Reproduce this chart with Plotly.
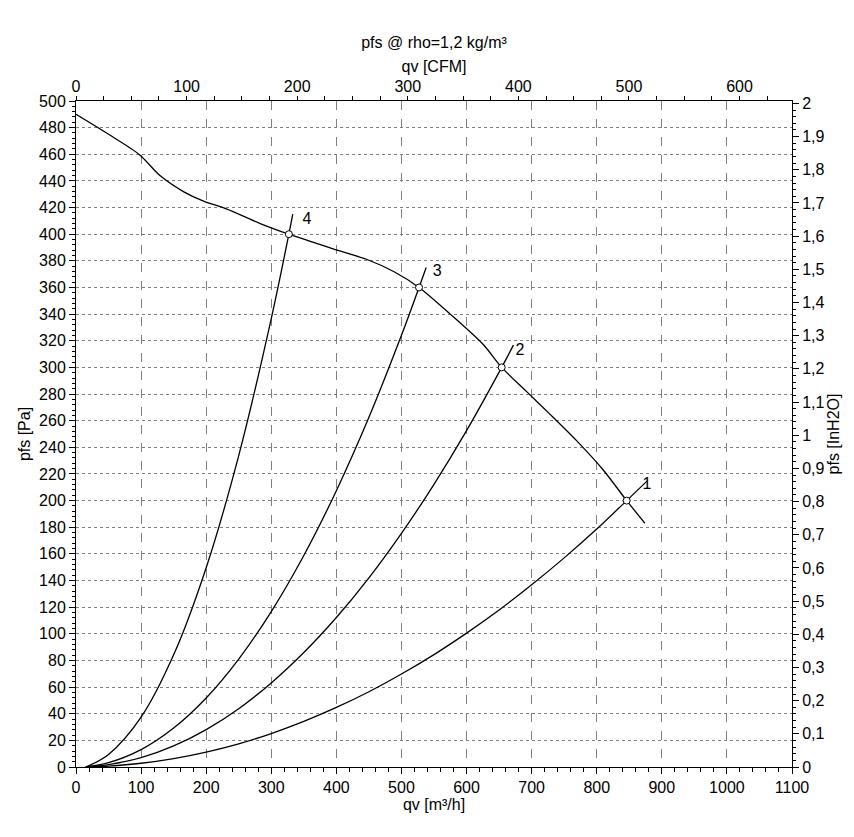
import plotly.graph_objects as go

# Fan curve (qv m3/h, pfs Pa)
fan_qv = [0, 50, 98, 129, 165, 195, 231, 283, 327, 395, 447, 488, 527, 575, 626, 654, 692, 730, 769, 810, 846, 874]
fan_pfs = [490, 475, 459.5, 444, 432, 425, 419, 408, 400, 389, 381, 372, 360, 340, 317, 300, 282, 264, 245, 223, 200, 183]

# System curves
sys4_qv = [15, 50, 100, 150, 200, 250, 300, 327, 333]
sys4_pfs = [0, 9.4, 37.4, 84.2, 149.6, 233.8, 336.7, 400, 415]
sys3_qv = [15, 50, 100, 150, 200, 250, 300, 350, 400, 450, 500, 527, 538]
sys3_pfs = [0, 3.2, 13.0, 29.2, 51.8, 81.0, 116.7, 158.8, 207.4, 262.5, 324.1, 360, 375]
sys2_qv = [15, 50, 100, 150, 200, 250, 300, 350, 400, 450, 500, 550, 600, 654, 672]
sys2_pfs = [0, 1.8, 7.0, 15.8, 28.1, 43.8, 63.1, 85.9, 112.2, 142.0, 175.4, 212.2, 252.5, 300, 316.7]
sys1_qv = [15, 50, 100, 150, 200, 250, 300, 350, 400, 450, 500, 550, 600, 650, 700, 750, 800, 846, 878]
sys1_pfs = [0, 0.7, 2.8, 6.3, 11.2, 17.4, 25.1, 34.2, 44.7, 56.5, 69.8, 84.4, 100.5, 117.9, 136.8, 157.0, 178.6, 200, 215]

# Operating points
op_qv = [846, 654, 527, 327]
op_pfs = [200, 300, 360, 400]
op_labels = ["1", "2", "3", "4"]
lbl_qv = [877, 682, 555, 355]
lbl_pfs = [212, 312, 372, 411]

QV_MAX = 1100
PFS_MAX = 500
CFM_FACTOR = 1.69901
INH2O_FACTOR = 249.089

FONT = "Liberation Sans Narrow, Arial Narrow, Liberation Sans, Arial, sans-serif"
FS = 16

W, H = 846, 829

fig = go.Figure()
fig.add_trace(go.Scatter(x=fan_qv, y=fan_pfs, mode="lines",
                         line=dict(color="black", width=1.3, shape="spline", smoothing=0.8), showlegend=False))
for qx, py in [(sys1_qv, sys1_pfs), (sys2_qv, sys2_pfs), (sys3_qv, sys3_pfs), (sys4_qv, sys4_pfs)]:
    fig.add_trace(go.Scatter(x=qx, y=py, mode="lines", line=dict(color="black", width=1.3, shape="spline"), showlegend=False))
fig.add_trace(go.Scatter(x=op_qv, y=op_pfs, mode="markers",
                         marker=dict(symbol="circle", size=7, color="white", line=dict(color="black", width=1)),
                         showlegend=False))
fig.add_trace(go.Scatter(x=lbl_qv, y=lbl_pfs, mode="text", text=op_labels,
                         textfont=dict(family=FONT, size=FS, color="black"), showlegend=False))
# invisible traces to activate secondary axes
fig.add_trace(go.Scatter(x=[0], y=[0], xaxis="x2", yaxis="y", mode="markers", marker=dict(opacity=0), showlegend=False, hoverinfo="skip"))
fig.add_trace(go.Scatter(x=[0], y=[0], xaxis="x", yaxis="y2", mode="markers", marker=dict(opacity=0), showlegend=False, hoverinfo="skip"))

tickfont = dict(family=FONT, size=FS, color="black")
titlefont = dict(family=FONT, size=FS, color="black")

fig.update_layout(
    width=W, height=H,
    margin=dict(l=68, r=62, t=93, b=70),
    paper_bgcolor="white", plot_bgcolor="white",
    separators=", ",
    font=dict(family=FONT, size=FS, color="black"),
    title=dict(text="pfs @ rho=1,2 kg/m³", x=426 / W, xanchor="center", y=1 - 34 / H, yanchor="middle",
               font=dict(family=FONT, size=FS, color="black")),
    xaxis=dict(range=[0, QV_MAX], dtick=100, tick0=0, showgrid=True, gridcolor="#808080", griddash="dash", gridwidth=1,
               zeroline=False, showline=True, linecolor="black", linewidth=1,
               ticks="outside", ticklen=6, tickcolor="black", tickfont=tickfont,
               minor=dict(dtick=20, ticks="outside", ticklen=4, tickcolor="black", showgrid=False),
               title=dict(text="qv [m³/h]", font=titlefont, standoff=1)),
    yaxis=dict(range=[0, PFS_MAX], dtick=20, tick0=0, showgrid=True, gridcolor="#808080", griddash="dot", gridwidth=1,
               zeroline=False, showline=True, linecolor="black", linewidth=1,
               ticks="outside", ticklen=6, tickcolor="black", tickfont=tickfont,
               minor=dict(dtick=4, ticks="outside", ticklen=3, tickcolor="black", showgrid=False),
               title=dict(text="pfs [Pa]", font=titlefont, standoff=4)),
    xaxis2=dict(overlaying="x", side="top", range=[0, QV_MAX / CFM_FACTOR], dtick=100, tick0=0,
                showgrid=False, zeroline=False, showline=True, linecolor="black", linewidth=1,
                ticks="outside", ticklen=4, tickcolor="black", tickfont=tickfont, ticklabelstandoff=-2,
                minor=dict(dtick=25, ticks="outside", ticklen=4, tickcolor="black", showgrid=False),
                title=dict(text="qv [CFM]", font=titlefont, standoff=0)),
    yaxis2=dict(overlaying="y", side="right", range=[0, PFS_MAX / INH2O_FACTOR], dtick=0.1, tick0=0,
                showgrid=False, zeroline=False, showline=True, linecolor="black", linewidth=1,
                ticks="outside", ticklen=6, tickcolor="black", tickfont=tickfont,
                minor=dict(dtick=0.02, ticks="outside", ticklen=3, tickcolor="black", showgrid=False),
                title=dict(text="pfs [InH2O]", font=titlefont, standoff=4)),
)

fig.write_html("out.html")
